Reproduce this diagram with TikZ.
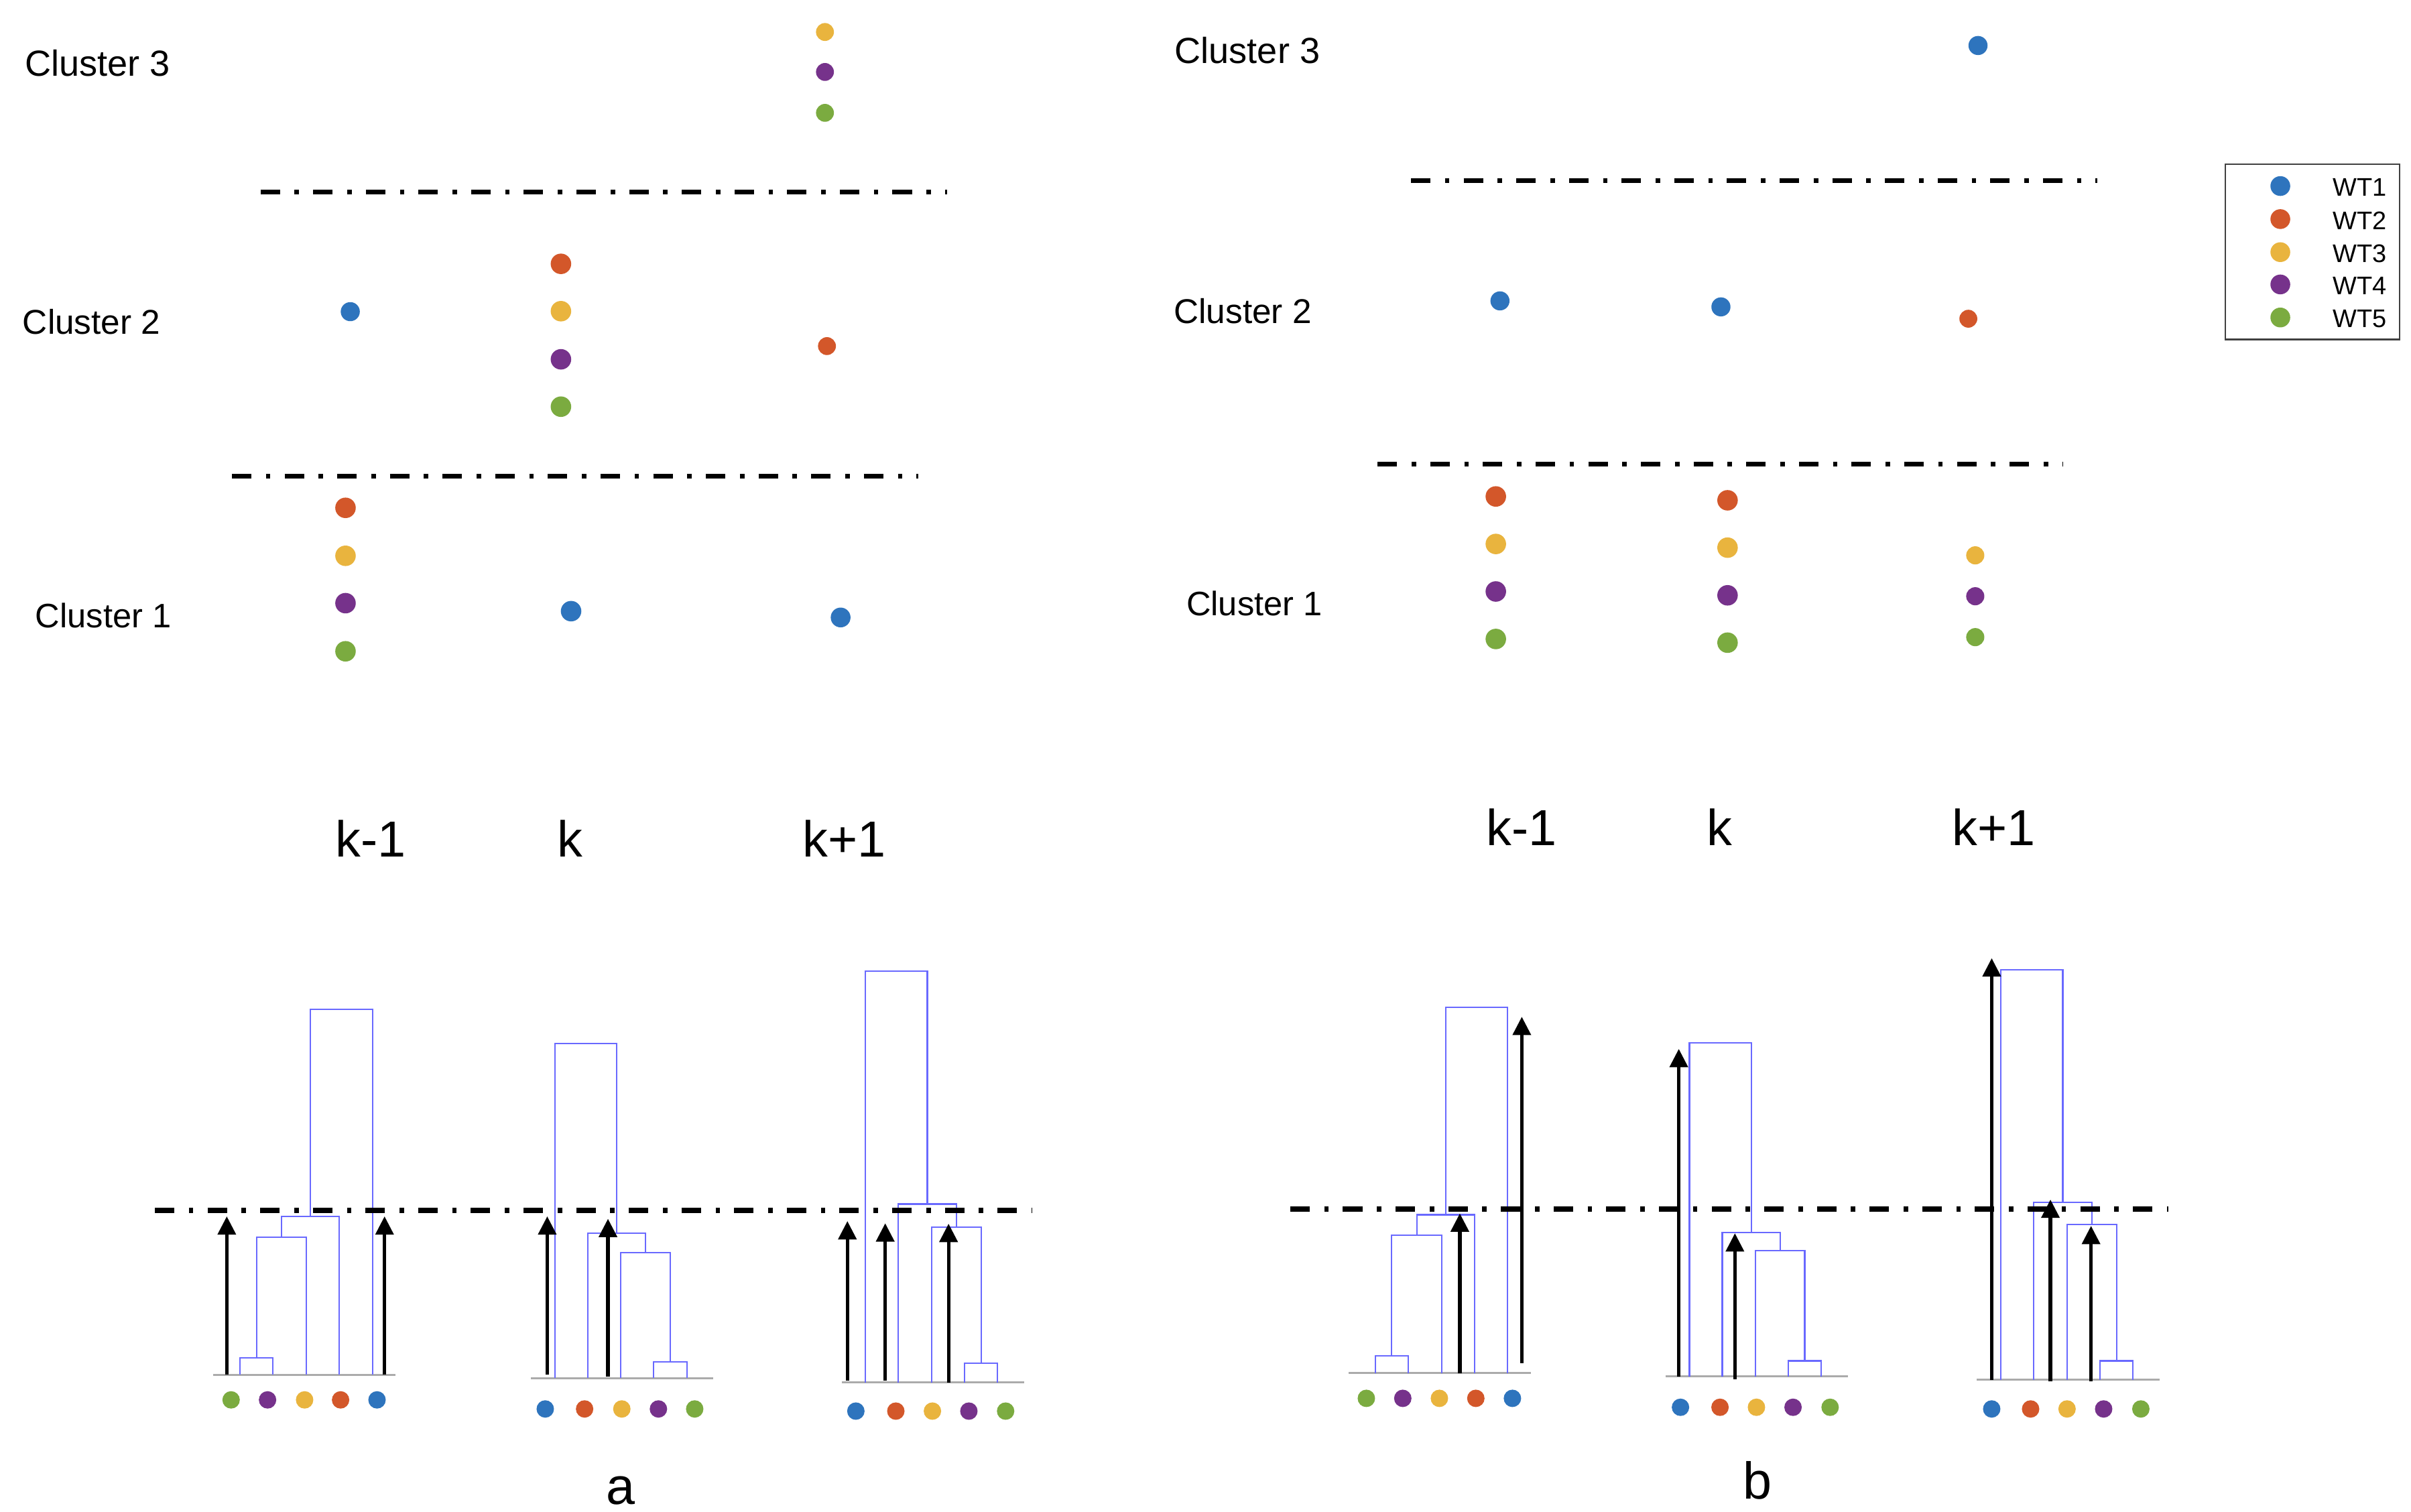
\documentclass[tikz,border=0pt]{standalone}
\usepackage{fontspec}
\setmainfont{Liberation Sans}
\usetikzlibrary{arrows.meta}
\definecolor{wt1}{RGB}{46,116,189}
\definecolor{wt2}{RGB}{211,87,42}
\definecolor{wt3}{RGB}{233,180,62}
\definecolor{wt4}{RGB}{118,50,139}
\definecolor{wt5}{RGB}{123,171,64}
\definecolor{treeblue}{RGB}{105,105,255}
\newcommand{\setfs}[1]{\fontsize{#1}{#1}\selectfont}
\begin{document}
\begin{tikzpicture}[x=0.02294cm, y=-0.02294cm, >={Triangle[length=7.8pt,width=7.6pt]},
	cut/.style={line width=2.1pt, dash pattern=on 8.25pt off 6.2pt on 1.9pt off 6pt},
	bigcut/.style={cut, line width=2.3pt},
	tree/.style={draw=treeblue, line width=0.6pt},
	axisline/.style={draw=black!33, line width=0.8pt},
	up/.style={->, line width=1.5pt},
	clabel/.style={inner sep=0pt, anchor=base west},
	klabel/.style={font=\setfs{21.5}, inner sep=0pt, anchor=base},
	legtext/.style={font=\setfs{10.8}, inner sep=0pt, anchor=west}]
	\useasboundingbox (0,0) rectangle (1568,983);
	% cluster rows
	\node[clabel, font=\setfs{15.4}] (c3a) at (16,49.5) {Cluster 3};
	\node[clabel, font=\setfs{14.6}] (c2a) at (14.5,217.1) {Cluster 2};
	\node[clabel, font=\setfs{14.4}] (c1a) at (22.7,408.3) {Cluster 1};
	\node[clabel, font=\setfs{15.4}] (c3b) at (763.7,41.3) {Cluster 3};
	\node[clabel, font=\setfs{14.6}] (c2b) at (763.2,210.4) {Cluster 2};
	\node[clabel, font=\setfs{14.4}] (c1b) at (771.3,400.6) {Cluster 1};
	\draw[cut] (169.4,124.8) -- (616.1,124.8);
	\draw[cut] (150.8,309.8) -- (597,309.8);
	\draw[cut] (917.6,117.4) -- (1363.8,117.4);
	\draw[cut] (895.9,301.8) -- (1341.5,301.8);
	\foreach \x/\y/\c/\rad in {536.5/20.8/3/3.8, 536.5/46.8/4/3.8, 536.5/73.4/5/3.8,
		227.8/202.7/1/4.05, 364.8/171.6/2/4.35, 364.8/202.4/3/4.35, 364.8/233.7/4/4.35, 364.8/264.5/5/4.35,
		537.8/225.1/2/3.8, 224.7/330.3/2/4.35, 224.7/361.5/3/4.35, 224.7/392.3/4/4.35, 224.7/423.6/5/4.35,
		371.4/397.5/1/4.35, 546.7/401.6/1/4.2,
		1286.4/29.6/1/4.05, 975.5/195.7/1/4.05, 1119.2/199.6/1/4.05, 1280.1/207.3/2/3.8,
		972.8/322.9/2/4.35, 972.8/353.8/3/4.35, 972.8/384.7/4/4.35, 972.8/415.6/5/4.35,
		1123.5/325.4/2/4.35, 1123.5/356.2/3/4.35, 1123.5/387.2/4/4.35, 1123.5/418/5/4.35,
		1284.6/361.2/3/3.85, 1284.6/387.8/4/3.85, 1284.6/414.4/5/3.85}
	\fill[wt\c] (\x,\y) circle (\rad pt);
	% steps
	\node[klabel] (kma) at (241,557.5) {k-1};
	\node[klabel] (ka) at (370.5,557.5) {k};
	\node[klabel] (kpa) at (549,557.5) {k+1};
	\node[klabel] (kmb) at (989.7,549.7) {k-1};
	\node[klabel] (kb) at (1118.5,549.7) {k};
	\node[klabel] (kpb) at (1296.8,549.7) {k+1};
	% legend
	\draw[draw=black!75, line width=0.7pt] (1447.3,106.8) rectangle (1560.6,220.8);
	\foreach \i/\y in {1/121,2/142.5,3/164,4/185,5/206.5}{
		\fill[wt\i] (1483,\y) circle (4.2pt);
		\node[legtext] (leg\i) at (1517,\y+1) {WT\i};
	}
	% dendrograms
	\foreach \xa/\xb/\y in {138.5/257.1/894.2, 345.2/464.0/896.3, 547.6/666.0/899.1,
		877.0/995.6/893.1, 1083.2/1201.6/895.3, 1285.5/1404.3/897.4}
	\draw[axisline] (\xa,\y) -- (\xb,\y);
	\foreach \xa/\ya/\xb/\yb/\h in {
		156.1/894.2/177.5/894.2/883.0, 166.8/883.0/199.3/894.2/804.6,
		183.05/804.6/220.7/894.2/791.3, 201.9/791.3/242.2/894.2/656.6,
		425.1/896.3/446.8/896.3/885.7, 403.6/896.3/435.95/885.7/814.6,
		382.4/896.3/419.8/814.6/802.1, 361.0/896.3/401.1/802.1/678.9,
		627.4/899.1/648.8/899.1/886.6, 606.0/899.1/638.1/886.6/798.1,
		584.2/899.1/622.05/798.1/783.1, 562.8/899.1/603.1/783.1/631.8,
		894.4/893.1/915.8/893.1/881.8, 905.1/881.8/937.6/893.1/803.2,
		921.35/803.2/959.0/893.1/790.1, 940.2/790.1/980.4/893.1/655.0,
		1163.0/895.3/1184.4/895.3/885.1, 1141.6/895.3/1173.7/885.1/813.6,
		1120.1/895.3/1157.65/813.6/801.5, 1098.7/895.3/1138.9/801.5/678.3,
		1365.8/897.4/1387.2/897.4/885.1, 1344.3/897.4/1376.5/885.1/796.6,
		1322.6/897.4/1360.4/796.6/782.1, 1301.1/897.4/1341.5/782.1/630.7}
	\draw[tree] (\xa,\ya) |- (\xb,\h) -- (\xb,\yb);
	\draw[bigcut] (100.7,787.1) -- (670.9,787.1);
	\draw[bigcut] (839.1,786.5) -- (1410.1,786.5);
	\foreach \x/\ya/\yb [count=\i] in {147.5/894.2/791.1, 250.1/894.2/791.1,
		355.9/894.2/791.1, 395.4/895.5/792.7,
		551.1/898.0/794.2, 575.7/898.0/795.6, 616.9/899.1/795.9,
		949.4/893.1/789.2, 989.7/886.6/661.3,
		1091.8/895.3/682.2, 1128.3/897.0/802.1,
		1295.3/897.4/623.2, 1333.5/898.5/780.2, 1359.9/898.5/797.3}{
		\coordinate (foot\i) at (\x,\ya);
		\coordinate (tip\i) at (\x,\yb);
		\draw[up] (foot\i) -- (tip\i);
	}
	% leaves
	\foreach \x/\c in {150.3/5,174.0/4,198.1/3,221.5/2,245.2/1}
	\fill[wt\c] (\x,910.5) circle (3.7pt);
	\foreach \x/\c in {354.6/1,380.2/2,404.4/3,428.2/4,451.8/5}
	\fill[wt\c] (\x,916.4) circle (3.7pt);
	\foreach \x/\c in {556.6/1,582.6/2,606.4/3,630.1/4,654.0/5}
	\fill[wt\c] (\x,917.8) circle (3.7pt);
	\foreach \x/\c in {888.6/5,912.3/4,936.1/3,959.8/2,983.6/1}
	\fill[wt\c] (\x,909.5) circle (3.7pt);
	\foreach \x/\c in {1092.9/1,1118.6/2,1142.3/3,1166.1/4,1190.2/5}
	\fill[wt\c] (\x,915.3) circle (3.7pt);
	\foreach \x/\c in {1295.3/1,1320.6/2,1344.3/3,1368.1/4,1392.3/5}
	\fill[wt\c] (\x,916.4) circle (3.7pt);
	\node[klabel, font=\setfs{22}] (pa) at (403.6,978.6) {a};
	\node[klabel, font=\setfs{22}] (pb) at (1143,974.7) {b};
\end{tikzpicture}
\end{document}
